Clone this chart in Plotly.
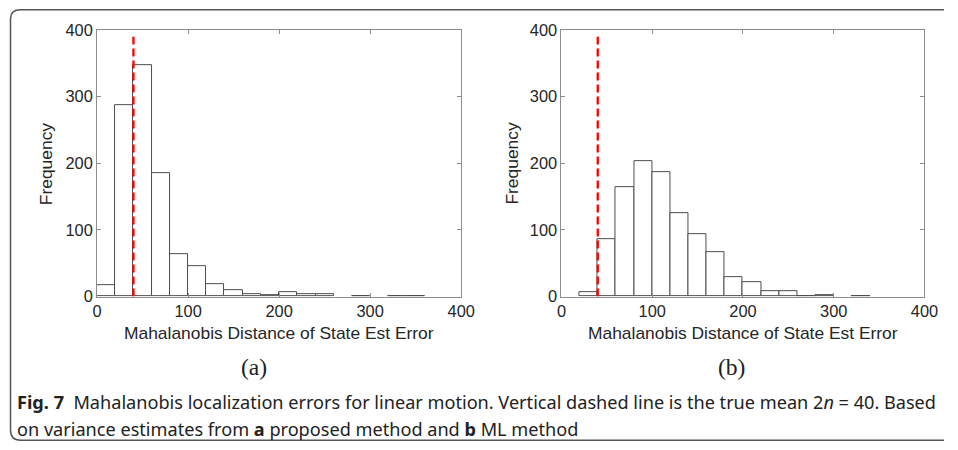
import plotly.graph_objects as go

# ---- data ----
bin_edges = list(range(0, 380, 20))  # left edges of 20-wide bins
counts_a = [17, 287, 347, 185, 64, 45, 19, 9, 4, 2, 6, 3, 3, 0, 1, 0, 1, 1, 0]
counts_b = [0, 6, 86, 164, 204, 187, 126, 93, 66, 29, 21, 8, 8, 1, 2, 0, 1, 0, 0]
bin_width = 20
true_mean = 40
x_ticks = [0, 100, 200, 300, 400]
y_ticks = [0, 100, 200, 300, 400]
x_title = "Mahalanobis Distance of State Est Error"
y_title = "Frequency"
panel_labels = ["(a)", "(b)"]
caption_1 = ("<b>Fig. 7</b>  Mahalanobis localization errors for linear motion. Vertical dashed line "
             "is the true mean 2<i>n</i> = 40. Based")
caption_2 = "on variance estimates from <b>a</b> proposed method and <b>b</b> ML method"

W, H = 958, 450
SX, SY = 0.9856, 0.9657           # observed page-capture scaling
def px(x): return (x / SX - 3) / W          # target picture x -> paper
def py(y): return 1 - (y / SY - 8) / H      # target picture y -> paper
def fs(s): return s / 0.976                 # compensate font scaling

centers = [e + bin_width / 2 for e in bin_edges]

fig = go.Figure()
for i, counts in enumerate([counts_a, counts_b]):
    xa = "x" if i == 0 else "x2"
    ya = "y" if i == 0 else "y2"
    shown = [c if c > 0 else None for c in counts]
    fig.add_trace(go.Bar(x=centers, y=shown, width=bin_width, xaxis=xa, yaxis=ya,
                         marker=dict(color="white", line=dict(color="#4d4d4d", width=1)),
                         showlegend=False, hoverinfo="skip"))
    fig.add_trace(go.Scatter(x=[true_mean, true_mean], y=[0, 390], xaxis=xa, yaxis=ya,
                             mode="lines", line=dict(color="#ff0000", width=2.3, dash="8px,4px"),
                             showlegend=False, hoverinfo="skip"))

axis_common = dict(range=[0, 400], showline=True, mirror="ticks", linecolor="#8c8c8c", linewidth=1,
                   ticks="inside", ticklen=4, tickcolor="#8c8c8c", showgrid=False, zeroline=False,
                   tickfont=dict(family="Liberation Sans, Arial", size=fs(16), color="#262626"))

ydom = [py(297), py(29)]
fig.update_layout(
    width=W, height=H, margin=dict(l=0, r=0, t=0, b=0),
    paper_bgcolor="white", plot_bgcolor="white", bargap=0,
    xaxis=dict(domain=[px(95.5), px(461.7)], anchor="y", tickvals=x_ticks, **axis_common),
    yaxis=dict(domain=ydom, anchor="x", tickvals=y_ticks, **axis_common),
    xaxis2=dict(domain=[px(562.5), px(927.5)], anchor="y2", tickvals=x_ticks, **axis_common),
    yaxis2=dict(domain=ydom, anchor="x2", tickvals=y_ticks, **axis_common),
)

ann = []
for cx_axis, ylab_x in [((95.5 + 461.7) / 2, 45), ((562.5 + 927.5) / 2, 513)]:
    ann.append(dict(x=px(cx_axis), y=py(334), xref="paper", yref="paper", text=x_title,
                    showarrow=False, font=dict(family="Liberation Sans, Arial", size=fs(17), color="#262626"),
                    xanchor="center", yanchor="middle"))
    ann.append(dict(x=px(ylab_x), y=py(163), xref="paper", yref="paper", text=y_title, textangle=-90,
                    showarrow=False, font=dict(family="Liberation Sans, Arial", size=fs(17), color="#262626"),
                    xanchor="center", yanchor="middle"))
for lab, cx in zip(panel_labels, [253, 733]):
    ann.append(dict(x=px(cx), y=py(368), xref="paper", yref="paper", text=lab, showarrow=False,
                    font=dict(family="Liberation Serif", size=fs(23), color="#222"),
                    xanchor="center", yanchor="middle"))
ann.append(dict(x=px(13), y=py(403), xref="paper", yref="paper", text=caption_1, showarrow=False,
                font=dict(family="Noto Sans", size=fs(17.7), color="#222"), xanchor="left", yanchor="middle"))
ann.append(dict(x=px(13), y=py(430), xref="paper", yref="paper", text=caption_2, showarrow=False,
                font=dict(family="Noto Sans", size=fs(17.7), color="#222"), xanchor="left", yanchor="middle"))
fig.update_layout(annotations=ann)

# outer rounded frame (top/bottom edges clamped to the figure)
top_p = 1 - 0.8 / H
bot_p = 0.8 / H
lx, r = px(8.5), 10
path = (f"M 1 {top_p} L {px(8.5 + r)} {top_p} "
        f"Q {lx} {top_p} {lx} {py(5.5 + 2 + r)} "
        f"L {lx} {py(441 - r)} Q {lx} {bot_p} {px(8.5 + r)} {bot_p} L 1 {bot_p}")
fig.add_shape(type="path", path=path, xref="paper", yref="paper",
              line=dict(color="#555555", width=1.5))

fig.write_html("out.html")
